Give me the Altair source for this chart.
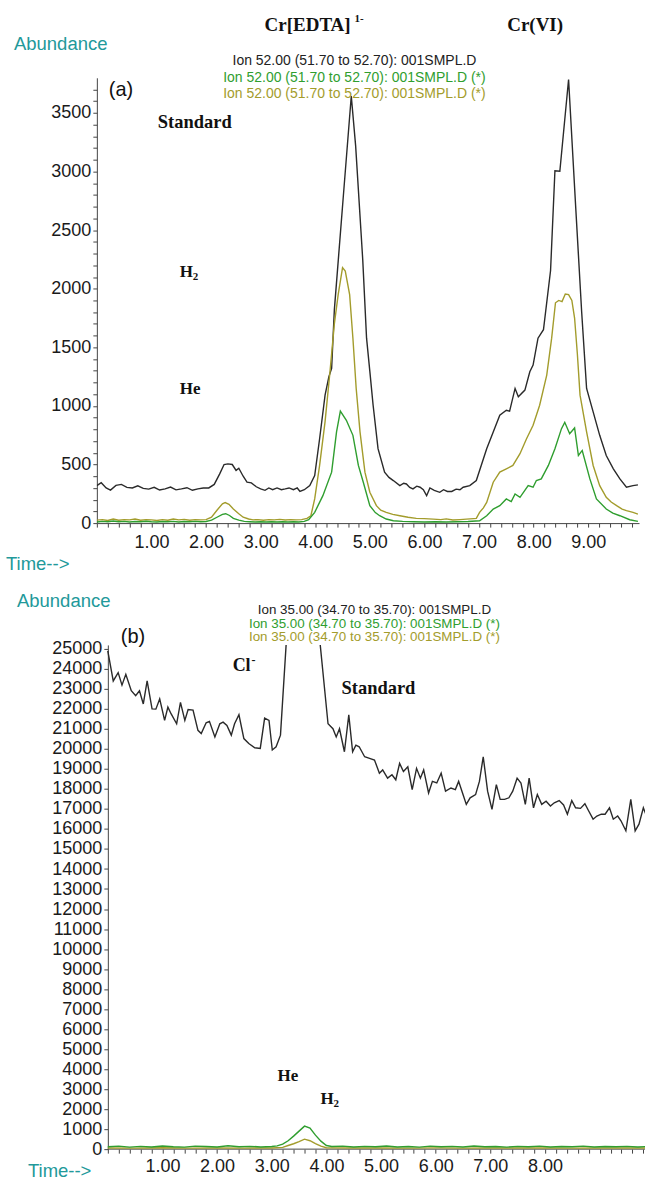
import altair as alt
import pandas as pd

# ---------------- Panel (a): Ion 52 ----------------
A_STD_T = [0.00, 0.08, 0.17, 0.25, 0.35, 0.45, 0.55, 0.65, 0.75, 0.85, 0.95, 1.05, 1.15, 1.25, 1.35, 1.45,
           1.55, 1.65, 1.75, 1.85, 1.95, 2.05, 2.15, 2.25, 2.33, 2.40, 2.48, 2.55, 2.60, 2.68, 2.75, 2.83,
           2.92, 3.00, 3.08, 3.15, 3.22, 3.30, 3.38, 3.45, 3.52, 3.60, 3.67, 3.72, 3.80, 3.90, 3.99, 4.08,
           4.18, 4.25, 4.30, 4.35, 4.51, 4.66, 4.74, 4.87, 4.94, 5.00, 5.06, 5.15, 5.27, 5.35, 5.43, 5.55,
           5.62, 5.67, 5.73, 5.79, 5.86, 5.92, 5.98, 6.04, 6.10, 6.18, 6.28, 6.35, 6.42, 6.50, 6.58, 6.65,
           6.71, 6.83, 6.95, 7.04, 7.14, 7.26, 7.38, 7.50, 7.56, 7.66, 7.72, 7.84, 7.93, 7.99, 8.08, 8.18,
           8.31, 8.39, 8.48, 8.64, 8.77, 8.88, 8.97, 9.09, 9.21, 9.33, 9.46, 9.58, 9.70, 9.82, 9.91]
A_STD_V = [320, 345, 300, 282, 322, 330, 305, 300, 318, 296, 290, 305, 282, 292, 308, 284,
           292, 302, 280, 292, 300, 300, 330, 420, 500, 505, 500, 450, 468, 400, 350, 343,
           310, 292, 280, 300, 285, 300, 285, 292, 300, 285, 300, 270, 285, 320, 406, 720,
           1092, 1250, 1320, 1820, 2763, 3645, 3219, 2247, 1578, 1295, 1006, 635, 435, 390, 363, 320,
           340, 334, 305, 292, 315, 306, 285, 234, 300, 280, 263, 285, 270, 270, 290, 285,
           306, 320, 363, 491, 635, 778, 920, 963, 955, 1149, 1078, 1135, 1292, 1349, 1578, 1650,
           2155, 3006, 3002, 3785, 2700, 1800, 1149, 949, 749, 577, 463, 377, 306, 320, 326]

A_H2_T = [0.00, 0.10, 0.20, 0.30, 0.40, 0.50, 0.60, 0.70, 0.80, 0.90, 1.00, 1.10, 1.20, 1.30, 1.40, 1.50,
          1.60, 1.70, 1.80, 1.90, 2.00, 2.10, 2.20, 2.30, 2.35, 2.42, 2.50, 2.60, 2.68, 2.78, 2.86, 2.95,
          3.05, 3.15, 3.25, 3.35, 3.45, 3.55, 3.65, 3.75, 3.85, 3.92, 3.99, 4.08, 4.18, 4.27, 4.35, 4.42,
          4.50, 4.55, 4.63, 4.69, 4.75, 4.82, 4.91, 5.00, 5.12, 5.20, 5.30, 5.42, 5.55, 5.70, 5.85, 6.00,
          6.16, 6.30, 6.40, 6.52, 6.65, 6.77, 6.90, 6.95, 7.01, 7.08, 7.14, 7.26, 7.38, 7.50, 7.62, 7.75,
          7.87, 7.99, 8.11, 8.24, 8.33, 8.40, 8.46, 8.52, 8.58, 8.64, 8.70, 8.75, 8.80, 8.85, 8.97, 9.09,
          9.21, 9.33, 9.42, 9.52, 9.62, 9.70, 9.82, 9.91]
A_H2_V = [25, 30, 22, 35, 25, 30, 28, 35, 25, 30, 28, 22, 30, 25, 35, 28,
          32, 25, 30, 28, 30, 50, 110, 165, 175, 160, 120, 80, 50, 35, 28, 30,
          25, 30, 28, 32, 26, 30, 28, 30, 40, 63, 206, 492, 866, 1292, 1700, 1950,
          2180, 2150, 1950, 1578, 1149, 778, 435, 263, 149, 110, 92, 75, 63, 50, 40, 38,
          34, 30, 36, 26, 30, 34, 38, 40, 92, 130, 177, 349, 435, 463, 492, 592,
          720, 835, 1006, 1263, 1578, 1880, 1900, 1890, 1955, 1950, 1900, 1750, 1450, 1092, 778, 492,
          320, 220, 180, 149, 120, 106, 92, 77]

A_HE_T = [0.00, 0.10, 0.20, 0.30, 0.40, 0.50, 0.60, 0.70, 0.80, 0.90, 1.00, 1.10, 1.20, 1.30, 1.40, 1.50,
          1.60, 1.70, 1.80, 1.90, 2.00, 2.10, 2.20, 2.30, 2.36, 2.43, 2.50, 2.60, 2.70, 2.80, 2.90, 3.00,
          3.10, 3.20, 3.30, 3.40, 3.50, 3.60, 3.70, 3.80, 3.88, 3.99, 4.14, 4.30, 4.39, 4.46, 4.57, 4.69,
          4.79, 4.88, 5.00, 5.10, 5.18, 5.30, 5.43, 5.60, 5.80, 6.00, 6.20, 6.40, 6.60, 6.80, 7.01, 7.14,
          7.26, 7.38, 7.50, 7.59, 7.66, 7.75, 7.90, 7.99, 8.05, 8.14, 8.27, 8.39, 8.51, 8.57, 8.66, 8.75,
          8.82, 8.89, 9.03, 9.15, 9.33, 9.45, 9.58, 9.76, 9.91]
A_HE_V = [10, 15, 12, 18, 12, 15, 10, 14, 12, 16, 12, 10, 14, 12, 15, 10,
          14, 12, 15, 12, 14, 25, 50, 75, 80, 65, 40, 25, 15, 12, 10, 12,
          10, 12, 10, 12, 10, 12, 10, 15, 30, 92, 234, 435, 778, 955, 877, 749,
          492, 349, 149, 90, 63, 35, 20, 15, 12, 10, 12, 10, 12, 14, 20, 63,
          120, 149, 206, 183, 249, 220, 320, 306, 363, 377, 492, 635, 806, 860, 763, 812,
          577, 620, 377, 206, 120, 85, 63, 29, 15]

A_X_TICKS = [round(0.2 * i, 1) for i in range(0, 50)]
A_Y_TICKS = list(range(0, 3800, 100))
A_LEGEND = ["Ion  52.00 (51.70 to 52.70): 001SMPL.D",
            "Ion  52.00 (51.70 to 52.70): 001SMPL.D (*)",
            "Ion  52.00 (51.70 to 52.70): 001SMPL.D (*)"]

# ---------------- Panel (b): Ion 35 ----------------
B_STD_T = [0.00, 0.10, 0.19, 0.26, 0.33, 0.43, 0.51, 0.58, 0.65, 0.72, 0.81, 0.88, 0.95, 1.04, 1.10, 1.16,
           1.26, 1.33, 1.41, 1.47, 1.56, 1.65, 1.71, 1.80, 1.86, 1.96, 2.05, 2.11, 2.18, 2.26, 2.32, 2.40,
           2.49, 2.58, 2.69, 2.79, 2.87, 2.95, 3.01, 3.08, 3.16, 3.35, 3.55, 3.75, 4.03, 4.12, 4.18, 4.24,
           4.33, 4.41, 4.48, 4.54, 4.60, 4.70, 4.79, 4.88, 4.97, 5.03, 5.12, 5.20, 5.27, 5.34, 5.41, 5.49,
           5.57, 5.65, 5.72, 5.78, 5.87, 5.94, 6.02, 6.10, 6.18, 6.28, 6.36, 6.42, 6.50, 6.56, 6.63, 6.73,
           6.80, 6.87, 6.95, 7.03, 7.11, 7.18, 7.26, 7.34, 7.41, 7.49, 7.56, 7.64, 7.71, 7.79, 7.86, 7.94,
           8.02, 8.10, 8.17, 8.26, 8.34, 8.41, 8.49, 8.56, 8.65, 8.73, 8.80, 8.88, 8.95, 9.03, 9.10, 9.18,
           9.25, 9.33, 9.39, 9.48, 9.57, 9.65, 9.72, 9.80, 9.85]
B_STD_V = [24900, 23400, 23814, 23190, 23730, 22910, 22660, 22910, 22250, 23400, 22000, 21990, 22500, 21430, 22090, 21750,
           21260, 22330, 21430, 21970, 21940, 20930, 20770, 21310, 21380, 20600, 21260, 21340, 21180, 20690, 21260, 21710,
           20520, 20270, 20060, 20030, 21540, 21430, 19950, 20110, 20690, 29000, 60000, 29000, 21260, 21010, 20600, 21010,
           19860, 21700, 19860, 20190, 20110, 19610, 19530, 19450, 18790, 18950, 18540, 18710, 18460, 19280, 18870, 19110,
           17970, 19030, 18540, 18950, 17800, 18380, 18300, 18790, 17890, 18050, 17970, 18380, 17720, 17230, 17560, 17720,
           18380, 19610, 17890, 16980, 18220, 17480, 17480, 17560, 17890, 18540, 18300, 17230, 18540, 17060, 17720, 17230,
           17390, 17150, 17310, 17420, 17200, 16740, 17420, 17060, 17030, 17260, 16900, 16490, 16650, 16740, 16740, 17060,
           16490, 16650, 16410, 15910, 17480, 15910, 16240, 17060, 16700]

B_HE_T = [0.0, 0.2, 0.4, 0.6, 0.8, 1.0, 1.2, 1.4, 1.6, 1.8, 2.0, 2.2, 2.4, 2.6, 2.8, 3.0, 3.1, 3.2, 3.3, 3.4,
          3.5, 3.6, 3.7, 3.8, 3.9, 4.0, 4.1, 4.3, 4.5, 4.7, 4.9, 5.1, 5.3, 5.5, 5.7, 5.9, 6.1, 6.3, 6.5, 6.7,
          6.9, 7.1, 7.3, 7.5, 7.7, 7.9, 8.1, 8.3, 8.5, 8.7, 8.9, 9.1, 9.3, 9.5, 9.7, 9.85]
B_HE_V = [120, 150, 100, 140, 110, 160, 120, 100, 150, 130, 110, 170, 120, 140, 110, 130, 160, 250, 420, 650,
          900, 1150, 1050, 700, 400, 180, 130, 150, 110, 140, 120, 160, 110, 130, 100, 150, 120, 140, 110, 160,
          120, 130, 100, 140, 120, 150, 110, 130, 120, 150, 110, 130, 120, 140, 110, 130]

B_H2_T = [0.0, 0.5, 1.0, 1.5, 2.0, 2.5, 3.0, 3.2, 3.3, 3.4, 3.5, 3.6, 3.7, 3.8, 3.9, 4.0, 4.5, 5.0, 5.5, 6.0,
          6.5, 7.0, 7.5, 8.0, 8.5, 9.0, 9.5, 9.85]
B_H2_V = [60, 50, 70, 50, 60, 50, 60, 90, 180, 270, 380, 500, 420, 280, 150, 70, 55, 60, 50, 65,
          50, 60, 55, 60, 50, 60, 55, 60]

B_X_TICKS = [round(0.2 * i, 1) for i in range(0, 50)]
B_Y_TICKS = list(range(0, 26000, 1000))
B_LEGEND = ["Ion  35.00 (34.70 to 35.70): 001SMPL.D",
            "Ion  35.00 (34.70 to 35.70): 001SMPL.D (*)",
            "Ion  35.00 (34.70 to 35.70): 001SMPL.D (*)"]

BLACK = "#2a2a2a"
GREEN = "#2f9e2f"
OLIVE = "#a39c2c"
TEAL = "#22999a"
AXIS = "#444444"
SANS = "Liberation Sans"
SERIF = "Liberation Serif"


def frame(t, v):
    return pd.DataFrame({"time": t, "abundance": v})


def label(txt, x, y, size, color="#111111", font=SANS, weight="normal", align="left"):
    return alt.Chart(pd.DataFrame({"txt": [txt]})).mark_text(
        font=font, fontSize=size, fontWeight=weight, color=color, align=align, baseline="middle"
    ).encode(x=alt.value(x), y=alt.value(y), text="txt:N")


def panel(series, xdom, ydom, xticks, yticks, xlab_expr, ylab_expr, y_offset=0, base_span=None, xpad=4):
    xs = alt.Scale(domain=xdom, nice=False, zero=False)
    ys = alt.Scale(domain=ydom, nice=False)
    xa = alt.Axis(values=xticks, labelExpr=xlab_expr, title=None, grid=False, tickSize=4,
                  labelFontSize=18, labelFont=SANS, labelColor="#1a1a1a", domainColor=AXIS,
                  tickColor=AXIS, labelPadding=xpad, labelFlush=False, labelOverlap=False,
                  domain=base_span is None)
    ya = alt.Axis(values=yticks, labelExpr=ylab_expr, title=None, grid=False, tickSize=4,
                  labelFontSize=18, labelFont=SANS, labelColor="#1a1a1a", domainColor=AXIS,
                  tickColor=AXIS, labelPadding=2, labelOverlap=False, offset=y_offset)
    layers = []
    for df, col in series:
        layers.append(alt.Chart(df).mark_line(color=col, strokeWidth=1.4, clip=True).encode(
            x=alt.X("time:Q", scale=xs, axis=xa),
            y=alt.Y("abundance:Q", scale=ys, axis=ya),
        ))
    if base_span is not None:
        base = pd.DataFrame({"time": [base_span[0]], "time2": [base_span[1]], "abundance": [0]})
        layers.insert(0, alt.Chart(base).mark_rule(color=AXIS, strokeWidth=1).encode(
            x=alt.X("time:Q", scale=xs, axis=xa), x2="time2:Q",
            y=alt.Y("abundance:Q", scale=ys, axis=ya),
        ))
    return layers


XLAB_A = "abs(datum.value - round(datum.value)) < 0.001 && datum.value > 0.5 ? format(datum.value, '.2f') : ''"
YLAB_A = "datum.value % 500 == 0 ? format(datum.value, 'd') : ''"
XLAB_B = "abs(datum.value - round(datum.value)) < 0.001 && datum.value > 0.5 && datum.value < 8.5 ? format(datum.value, '.2f') : ''"
YLAB_B = "format(datum.value, 'd')"

# Panel (a)
la = panel([(frame(A_STD_T, A_STD_V), BLACK), (frame(A_H2_T, A_H2_V), OLIVE), (frame(A_HE_T, A_HE_V), GREEN)],
           [0, 9.93], [0, 3800], A_X_TICKS, A_Y_TICKS, XLAB_A, YLAB_A, xpad=6)
texts_a = [
    label("Abundance", -83, -34, 18.5, TEAL),
    label("Cr[EDTA]", 168, -53, 19, "#111111", SERIF, "bold"),
    label("1-", 258, -59, 11, "#111111", SERIF, "bold"),
    label("Cr(VI)", 411, -53, 19, "#111111", SERIF, "bold"),
    label(A_LEGEND[0], 258, -17, 14, "#222222", SANS, "normal", "center"),
    label(A_LEGEND[1], 258, 0, 14, GREEN, SANS, "normal", "center"),
    label(A_LEGEND[2], 258, 16, 14, OLIVE, SANS, "normal", "center"),
    label("(a)", 12, 12, 20, "#111111"),
    label("Standard", 61, 44, 18.5, "#111111", SERIF, "bold"),
    label("H", 83, 195, 17, "#111111", SERIF, "bold"),
    label("2", 96, 200, 11, "#111111", SERIF, "bold"),
    label("He", 83, 312, 17, "#111111", SERIF, "bold"),
    label("Time-->", -91, 487, 18.5, TEAL),
]
chart_a = alt.layer(*la, *texts_a).properties(width=543, height=446)

# Panel (b): plot origin shares panel (a)'s x; its y axis is pulled 11 px inward
lb = panel([(frame(B_STD_T, B_STD_V), BLACK), (frame(B_H2_T, B_H2_V), OLIVE), (frame(B_HE_T, B_HE_V), GREEN)],
           [-0.2, 9.83], [0, 25200], B_X_TICKS, B_Y_TICKS, XLAB_B, YLAB_B, y_offset=-11, base_span=(0, 9.83))
texts_b = [
    label("Abundance", -80, -44, 18.5, TEAL),
    label(B_LEGEND[0], 278, -35, 13.4, "#222222", SANS, "normal", "center"),
    label(B_LEGEND[1], 278, -21, 13.4, GREEN, SANS, "normal", "center"),
    label(B_LEGEND[2], 278, -8, 13.4, OLIVE, SANS, "normal", "center"),
    label("(b)", 24, -8, 20, "#111111"),
    label("Cl", 136, 21, 18, "#111111", SERIF, "bold"),
    label("-", 155, 15, 12, "#111111", SERIF, "bold"),
    label("Standard", 245, 43, 18.5, "#111111", SERIF, "bold"),
    label("He", 181, 432, 17, "#111111", SERIF, "bold"),
    label("H", 224, 455, 17, "#111111", SERIF, "bold"),
    label("2", 237, 460, 11, "#111111", SERIF, "bold"),
    label("Time-->", -69, 527, 18.5, TEAL),
]
chart_b = alt.layer(*lb, *texts_b).properties(width=549, height=505)

chart = alt.concat(chart_a, chart_b, columns=1, spacing=18).configure_view(stroke=None).properties(
    padding={"left": 6, "top": 12, "right": 0, "bottom": 0}, background="white"
)

chart.save("out.html", embed_options={"renderer": "svg", "actions": False})
